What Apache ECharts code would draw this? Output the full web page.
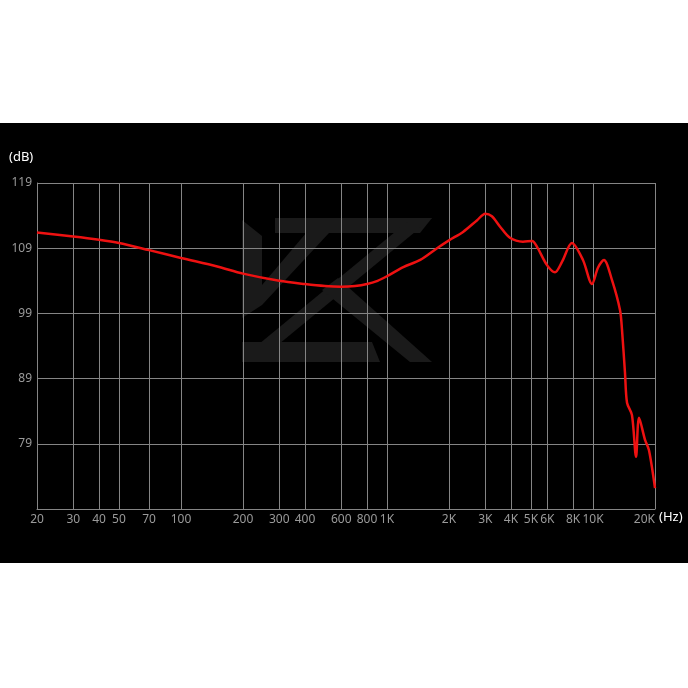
<!DOCTYPE html>
<html>
<head>
<meta charset="utf-8">
<script src="https://cdn.jsdelivr.net/npm/echarts@6/dist/echarts.min.js"></script>
<style>
  html, body { margin: 0; padding: 0; background: #ffffff; }
  #band { position: absolute; left: 0; top: 123px; width: 688px; height: 440px; background: #000000; }
  #chart { position: absolute; left: 0; top: 0; width: 688px; height: 688px; }
</style>
</head>
<body>
<div id="band"></div>
<div id="chart"></div>
<script>
// Frequency response (Hz -> dB)
var freqs = [20,30,40,50,70,100,150,200,300,400,500,600,700,800,900,1000,1200,1450,1750,2000,2340,2740,3000,3230,3540,3950,4570,5060,5350,5980,6540,7070,7900,8940,9890,10570,11300,12370,13530,13830,14300,14630,15460,16180,16730,17890,18700,20000];
var dbValues = [111.4,110.8,110.3,109.8,108.7,107.5,106.2,105.1,104.0,103.5,103.2,103.1,103.2,103.5,104.0,104.7,106.1,107.2,109.0,110.2,111.5,113.3,114.3,113.9,112.3,110.6,110.0,110.1,109.2,106.4,105.3,106.9,109.8,107.2,103.5,106.0,107.2,104.1,99.5,96.5,89.9,85.3,83.4,77.0,83.0,79.6,78.0,72.2];

// Tick positions / labels
var xTicks = [20,30,40,50,70,100,200,300,400,600,800,1000,2000,3000,4000,5000,6000,8000,10000,20000];
var xTickLabels = ['20','30','40','50','70','100','200','300','400','600','800','1K','2K','3K','4K','5K','6K','8K','10K','20K'];
var yTicks = [79,89,99,109,119];

var chart = echarts.init(document.getElementById('chart'), null, { renderer: 'canvas' });

var gridColor = '#858585';
var labelColor = '#9a9a9a';
var logoColor = '#1a1a1a';

var seriesData = freqs.map(function (f, i) { return [f, dbValues[i]]; });

function poly(points) {
  return { type: 'polygon', z: -10, silent: true, shape: { points: points }, style: { fill: logoColor } };
}

var option = {
  backgroundColor: 'transparent',
  animation: false,
  grid: { left: 37, right: 33, top: 183, bottom: 179, containLabel: false },
  xAxis: {
    type: 'log',
    logBase: 10,
    min: 20,
    max: 20000,
    axisLine: { show: true, lineStyle: { color: gridColor, width: 1 } },
    axisTick: { show: false, customValues: xTicks },
    axisLabel: {
      customValues: xTicks,
      color: labelColor,
      fontFamily: 'Noto Sans',
      fontSize: 12,
      margin: 5,
      hideOverlap: false,
      alignMaxLabel: 'right',
      formatter: function (v) {
        var idx = xTicks.indexOf(Math.round(v));
        return idx >= 0 ? xTickLabels[idx] : '';
      }
    },
    splitLine: { show: true, lineStyle: { color: gridColor, width: 1 } }
  },
  yAxis: {
    type: 'value',
    min: 69,
    max: 119,
    axisLine: { show: true, lineStyle: { color: gridColor, width: 1 } },
    axisTick: { show: false, customValues: yTicks },
    axisLabel: {
      customValues: yTicks,
      color: labelColor,
      fontFamily: 'Noto Sans',
      fontSize: 12,
      margin: 5
    },
    splitLine: { show: true, lineStyle: { color: gridColor, width: 1 } }
  },
  graphic: [
    poly([[242,220],[262,236],[262,305],[242,318]]),
    poly([[262,285],[262,305],[342,219],[318,219]]),
    poly([[275,218],[432,218],[420,233],[275,233]]),
    poly([[412,218],[432,218],[262,358],[242,358]]),
    poly([[242,342],[372,342],[380,362],[242,362]]),
    poly([[322,290],[338,278],[432,362],[410,362]]),
    { type: 'text', left: 9, top: 151, silent: true,
      style: { text: '(dB)', fill: '#ffffff', font: '13px "Noto Sans"' } },
    { type: 'text', left: 659, top: 511, silent: true,
      style: { text: '(Hz)', fill: '#ffffff', font: '13px "Noto Sans"' } }
  ],
  series: [{
    type: 'line',
    data: seriesData,
    smooth: 0.3,
    showSymbol: false,
    symbol: 'none',
    lineStyle: { color: '#ee1111', width: 2.5 },
    z: 5
  }]
};
chart.setOption(option);
</script>
</body>
</html>
